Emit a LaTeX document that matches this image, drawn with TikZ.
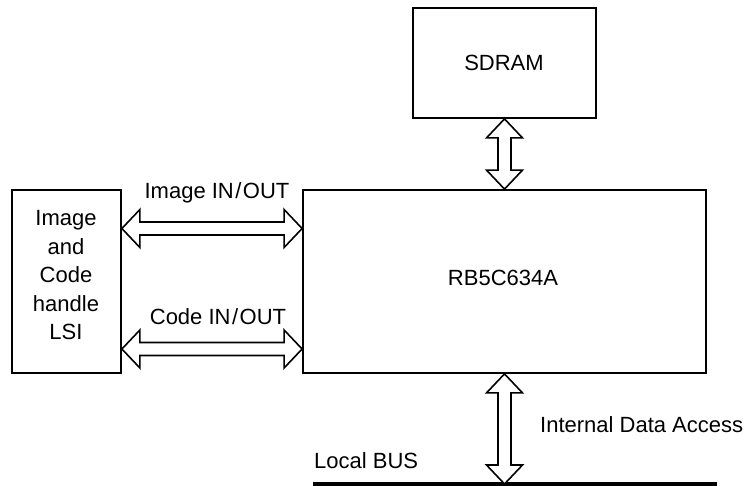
\documentclass[tikz,border=0pt]{standalone}
\usepackage{fontspec}
\setmainfont{Liberation Sans}
\usetikzlibrary{calc}
\tikzset{
  blk/.style={draw, line width=1.8pt, inner sep=0pt, font=\fontsize{22}{28.5}\selectfont, align=center},
  lbl/.style={inner sep=0pt, font=\fontsize{22}{26}\selectfont},
  dbl/.style={draw, line width=1.6pt, fill=white, line join=miter},
  bus/.style={line width=3.2pt}
}
% horizontal double arrow between two coordinates (left tip, right tip)
\newcommand{\dblH}[2]{%
  \draw[dbl] (#1) -- ($(#1)+(18,-19)$) -- ($(#1)+(18,-6.5)$) -- ($(#2)+(-18,-6.5)$) -- ($(#2)+(-18,-19)$) -- (#2)
    -- ($(#2)+(-18,19)$) -- ($(#2)+(-18,6.5)$) -- ($(#1)+(18,6.5)$) -- ($(#1)+(18,19)$) -- cycle;}
% vertical double arrow between two coordinates (top tip, bottom tip)
\newcommand{\dblV}[2]{%
  \draw[dbl] (#1) -- ($(#1)+(18,19)$) -- ($(#1)+(6.5,19)$) -- ($(#2)+(6.5,-19)$) -- ($(#2)+(18,-19)$) -- (#2)
    -- ($(#2)+(-18,-19)$) -- ($(#2)+(-6.5,-19)$) -- ($(#1)+(-6.5,19)$) -- ($(#1)+(-18,19)$) -- cycle;}
\begin{document}
\begin{tikzpicture}[x=1pt,y=-1pt]
\useasboundingbox (0,0) rectangle (748,486);
\node[blk, minimum width=183pt, minimum height=110pt] (sdram) at (504.5,63) {};
\node[blk, minimum width=403pt, minimum height=183pt] (main) at (504.5,281.5) {};
\node[blk, minimum width=109pt, minimum height=183pt] (lsi) at (66.5,281.5) {};
\node[lbl, anchor=base] (tsd) at (504,71) {SDRAM};
\node[lbl, anchor=base] (tmain) at (503,286) {RB5C634A};
\node[lbl, anchor=base, align=center, font=\fontsize{22}{28.5}\selectfont] (tlsi) at (66,340) {Image\\and\\Code\\handle\\LSI};
% bus
\coordinate (busL) at (313,484);
\coordinate (busR) at (717,484);
\draw[bus] (busL) -- (busR);
% arrow end points
\coordinate (iL) at (lsi.east |- 0,228.5);
\coordinate (iR) at (main.west |- 0,228.5);
\coordinate (cL) at (lsi.east |- 0,349);
\coordinate (cR) at (main.west |- 0,349);
\coordinate (sT) at (sdram.south);
\coordinate (sB) at (sdram.south |- main.north);
\coordinate (bT) at (sdram.south |- main.south);
\coordinate (bB) at (sdram.south |- busL);
\dblH{iL}{iR}
\dblH{cL}{cR}
\dblV{sT}{sB}
\dblV{bT}{bB}
% labels
\node[lbl, anchor=base] (limg) at (217,199) {Image IN\kern1.5pt/\kern1.5pt OUT};
\node[lbl, anchor=base] (lcode) at (218,325) {Code IN\kern1.5pt/\kern1.5pt OUT};
\node[lbl, anchor=base west] (lint) at (540,432.3) {Internal Data Access};
\node[lbl, anchor=base west] (lbus) at (314,469) {Local BUS};
\end{tikzpicture}
\end{document}
